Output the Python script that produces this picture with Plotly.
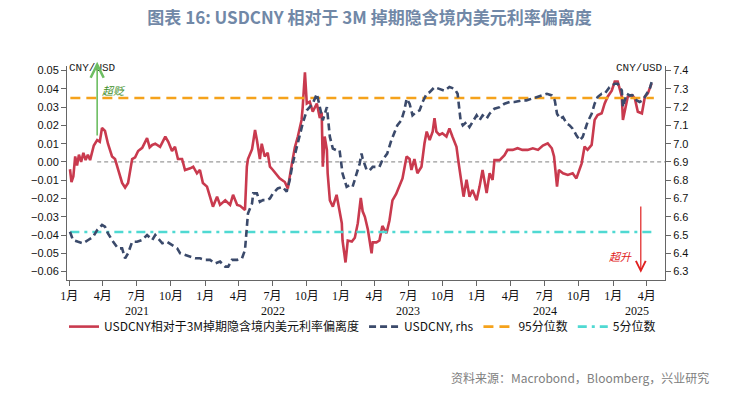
import plotly.graph_objects as go

# ---------------- data ----------------
dev_dates = [
    "2021-01-03","2021-01-07","2021-01-12","2021-01-17","2021-01-22","2021-01-27","2021-02-02","2021-02-08",
    "2021-02-14","2021-02-20","2021-02-26","2021-03-03","2021-03-08","2021-03-17","2021-03-24","2021-03-30",
    "2021-04-07","2021-04-15","2021-04-26","2021-05-04","2021-05-12","2021-05-23","2021-05-31","2021-06-08",
    "2021-06-19","2021-06-27","2021-07-05","2021-07-16","2021-07-29","2021-08-05","2021-08-12","2021-08-20",
    "2021-09-02","2021-09-16","2021-09-24","2021-10-04","2021-10-12","2021-10-20","2021-10-31","2021-11-08",
    "2021-11-22","2021-11-30","2021-12-10","2021-12-18","2021-12-26","2022-01-06","2022-01-14","2022-01-22",
    "2022-02-02","2022-02-10","2022-02-24","2022-03-09","2022-03-17","2022-03-28","2022-04-05","2022-04-18",
    "2022-04-23","2022-04-26","2022-05-07","2022-05-15","2022-05-20","2022-05-28","2022-06-02","2022-06-10",
    "2022-06-18","2022-06-24","2022-07-02","2022-07-12","2022-07-20","2022-08-03","2022-08-11","2022-08-22",
    "2022-08-30","2022-09-07","2022-09-17","2022-09-20","2022-09-26","2022-10-01","2022-10-09","2022-10-17",
    "2022-10-28","2022-11-05","2022-11-10","2022-11-13","2022-11-18","2022-11-24","2022-11-26","2022-12-02",
    "2022-12-10","2022-12-20","2022-12-28","2023-01-03","2023-01-05","2023-01-13","2023-01-19","2023-01-30",
    "2023-02-07","2023-02-15","2023-02-23","2023-02-28","2023-03-06","2023-03-14","2023-03-24","2023-03-27",
    "2023-04-06","2023-04-14","2023-04-22","2023-05-03","2023-05-11","2023-05-19","2023-05-29","2023-06-06",
    "2023-06-15","2023-06-26","2023-07-04","2023-07-09","2023-07-17","2023-07-25","2023-08-05","2023-08-13",
    "2023-08-19","2023-08-27","2023-09-04","2023-09-09","2023-09-14","2023-09-22","2023-09-30","2023-10-11",
    "2023-10-19","2023-10-27","2023-11-07","2023-11-13","2023-11-21","2023-11-26","2023-12-04","2023-12-12",
    "2023-12-20","2023-12-31","2024-01-08","2024-01-16","2024-01-27","2024-02-04","2024-02-12","2024-02-17",
    "2024-03-02","2024-03-15","2024-03-23","2024-04-06","2024-04-19","2024-05-02","2024-05-16","2024-05-30",
    "2024-06-13","2024-06-26","2024-07-09","2024-07-20","2024-07-26","2024-08-03","2024-08-08","2024-08-19",
    "2024-09-01","2024-09-14","2024-09-24","2024-10-03","2024-10-08","2024-10-16","2024-10-24","2024-11-04",
    "2024-11-12","2024-11-20","2024-12-01","2024-12-09","2024-12-17","2024-12-28","2025-01-05","2025-01-13",
    "2025-01-24","2025-01-27","2025-02-04","2025-02-09","2025-02-20","2025-02-28","2025-03-08","2025-03-19",
    "2025-03-27","2025-04-04","2025-04-14",
]
dev_values = [
    -0.004,-0.011,-0.008,0.003,-0.002,0.004,0.000,0.005,
    0.001,0.004,0.001,0.005,0.009,0.012,0.011,0.0186,
    0.017,0.010,0.003,0.0016,-0.0044,-0.0115,-0.014,-0.0115,
    0.0016,0.0025,0.006,0.0077,0.013,0.008,0.0093,0.010,
    0.0083,0.0139,0.011,0.006,0.0083,0.0016,0.0016,-0.0044,
    -0.0035,-0.0026,-0.0062,-0.0044,-0.0115,-0.0135,-0.019,-0.0245,
    -0.019,-0.0235,-0.021,-0.0235,-0.018,-0.0235,-0.024,-0.0263,
    -0.0026,0.0016,0.007,0.0175,0.012,0.0016,0.010,0.003,
    0.005,-0.0026,-0.0044,-0.0071,-0.009,-0.011,-0.0145,-0.0009,
    0.008,0.0139,0.023,0.030,0.049,0.032,0.033,0.0275,
    0.032,0.024,0.027,-0.0026,0.0139,0.0066,-0.0062,-0.021,
    -0.0245,-0.018,-0.0263,-0.0335,-0.043,-0.055,-0.043,-0.0436,
    -0.0415,-0.0335,-0.0197,-0.027,-0.030,-0.037,-0.050,-0.044,
    -0.044,-0.043,-0.035,-0.039,-0.032,-0.021,-0.0175,-0.0135,
    -0.009,0.003,0.0016,-0.0044,0.0016,-0.0062,-0.0026,0.0101,
    0.0166,0.012,0.0166,0.024,0.0166,0.0148,0.0157,0.0139,
    0.0184,0.0139,0.0083,-0.0009,-0.0115,-0.019,-0.0098,-0.019,
    -0.0153,-0.021,-0.0135,-0.0044,-0.017,-0.0062,-0.0098,0.001,
    0.001,0.0037,0.0066,0.0066,0.0075,0.0066,0.0066,0.0075,
    0.0066,0.009,0.0102,0.0075,0.003,-0.0135,-0.0044,-0.0062,
    -0.0071,-0.0062,-0.009,-0.0044,-0.0009,0.0084,0.0066,0.0093,
    0.023,0.0257,0.0266,0.032,0.0357,0.039,0.044,0.044,
    0.0357,0.023,0.032,0.0357,0.0366,0.0348,0.0275,0.0266,
    0.0357,0.0375,0.043,
]

fx_dates = [
    "2021-01-03","2021-01-11","2021-01-25","2021-02-07","2021-02-21","2021-03-06","2021-03-17","2021-03-30",
    "2021-04-07","2021-04-15","2021-04-29","2021-05-12","2021-05-23","2021-05-31","2021-06-08","2021-06-19",
    "2021-07-02","2021-07-16","2021-07-29","2021-08-12","2021-08-20","2021-08-28","2021-09-08","2021-09-21",
    "2021-10-04","2021-10-18","2021-10-26","2021-11-08","2021-11-22","2021-12-05","2021-12-18","2022-01-01",
    "2022-01-14","2022-01-28","2022-02-10","2022-02-24","2022-03-04","2022-03-14","2022-03-28","2022-04-10",
    "2022-04-18","2022-04-23","2022-04-26","2022-05-07","2022-05-10","2022-05-20","2022-05-28","2022-06-05",
    "2022-06-16","2022-06-24","2022-07-02","2022-07-15","2022-07-28","2022-08-08","2022-08-16","2022-08-24",
    "2022-09-04","2022-09-12","2022-09-20","2022-10-01","2022-10-09","2022-10-17","2022-10-28","2022-10-30",
    "2022-11-07","2022-11-13","2022-11-24","2022-12-02","2022-12-10","2022-12-20","2022-12-28","2023-01-05",
    "2023-01-16","2023-01-24","2023-02-01","2023-02-12","2023-02-20","2023-02-25","2023-02-28","2023-03-11",
    "2023-03-19","2023-03-27","2023-04-06","2023-04-14","2023-04-22","2023-05-05","2023-05-16","2023-05-24",
    "2023-06-01","2023-06-12","2023-06-20","2023-06-26","2023-07-04","2023-07-12","2023-07-22","2023-07-31",
    "2023-08-08","2023-08-19","2023-08-27","2023-09-09","2023-09-22","2023-10-06","2023-10-19","2023-11-02",
    "2023-11-10","2023-11-18","2023-11-24","2023-12-04","2023-12-12","2023-12-20","2023-12-31","2024-01-08",
    "2024-01-16","2024-01-27","2024-02-04","2024-02-17","2024-03-02","2024-03-15","2024-03-29","2024-04-11",
    "2024-04-30","2024-05-13","2024-05-27","2024-06-10","2024-06-23","2024-07-07","2024-07-20","2024-07-28",
    "2024-08-03","2024-08-11","2024-08-19","2024-08-29","2024-09-06","2024-09-14","2024-09-24","2024-10-03",
    "2024-10-11","2024-10-19","2024-10-24","2024-11-04","2024-11-12","2024-11-20","2024-12-01","2024-12-09",
    "2024-12-22","2025-01-05","2025-01-13","2025-01-24","2025-01-27","2025-02-06","2025-02-14","2025-02-22",
    "2025-03-05","2025-03-13","2025-03-21","2025-04-01","2025-04-09","2025-04-14",
]
fx_values = [
    6.518,6.473,6.463,6.455,6.473,6.490,6.527,6.555,
    6.546,6.509,6.463,6.427,6.427,6.373,6.400,6.463,
    6.463,6.473,6.500,6.473,6.500,6.482,6.455,6.463,
    6.445,6.427,6.400,6.390,6.382,6.373,6.373,6.364,
    6.364,6.345,6.355,6.327,6.327,6.364,6.364,6.373,
    6.418,6.545,6.618,6.673,6.728,6.728,6.682,6.691,
    6.691,6.700,6.728,6.755,6.764,6.737,6.800,6.891,
    6.982,7.055,7.110,7.182,7.200,7.219,7.273,7.255,
    7.164,7.128,7.200,7.037,6.973,6.964,6.964,6.837,
    6.764,6.773,6.764,6.837,6.891,6.946,6.918,6.855,
    6.855,6.873,6.873,6.873,6.910,6.946,7.018,7.064,
    7.100,7.128,7.182,7.246,7.219,7.155,7.173,7.182,
    7.228,7.273,7.282,7.309,7.300,7.290,7.310,7.300,
    7.273,7.128,7.100,7.118,7.091,7.118,7.155,7.128,
    7.155,7.137,7.164,7.191,7.200,7.219,7.228,7.228,
    7.237,7.237,7.246,7.255,7.264,7.273,7.264,7.237,
    7.164,7.137,7.146,7.110,7.100,7.082,7.046,7.018,
    7.037,7.091,7.118,7.164,7.219,7.255,7.273,7.273,
    7.309,7.328,7.328,7.291,7.200,7.273,7.264,7.264,
    7.237,7.228,7.237,7.273,7.300,7.337,
]

pct95 = 0.035
pct5 = -0.0383
line_span = ["2021-01-04", "2025-04-20"]
zero_span = ["2021-03-17", "2025-05-20"]

tick_dates = ["2021-01-01","2021-04-01","2021-07-01","2021-10-01",
              "2022-01-01","2022-04-01","2022-07-01","2022-10-01",
              "2023-01-01","2023-04-01","2023-07-01","2023-10-01",
              "2024-01-01","2024-04-01","2024-07-01","2024-10-01",
              "2025-01-01","2025-04-01"]
tick_text = ["1月","4月","7月","10月"] * 4 + ["1月","4月"]
year_labels = ["2021","2022","2023","2024","2025"]
year_pos = ["2021-07-01","2022-07-01","2023-07-01","2024-07-01","2025-03-05"]

left_ticks = [0.05,0.04,0.03,0.02,0.01,0.0,-0.01,-0.02,-0.03,-0.04,-0.05,-0.06]
right_ticks = [7.4,7.3,7.2,7.1,7.0,6.9,6.8,6.7,6.6,6.5,6.4,6.3]

# ---------------- figure ----------------
RED = "#C93A4E"
NAVY = "#3B4A6B"
ORANGE = "#F5A21B"
CYAN = "#4FD9D2"
LEG_FONT = "Noto Sans CJK SC"
MONO = "Liberation Mono, DejaVu Sans Mono"

fig = go.Figure()

fig.add_trace(go.Scatter(x=zero_span, y=[0, 0], mode="lines", showlegend=False,
                         line=dict(color="#9a9a9a", width=1.2, dash="4px,3px"), hoverinfo="skip"))
fig.add_trace(go.Scatter(x=dev_dates, y=dev_values, mode="lines",
                         name="USDCNY相对于3M掉期隐含境内美元利率偏离度",
                         line=dict(color=RED, width=2.6)))
fig.add_trace(go.Scatter(x=fx_dates, y=fx_values, mode="lines", name="USDCNY, rhs", yaxis="y2",
                         line=dict(color=NAVY, width=2.6, dash="7px,4px")))
fig.add_trace(go.Scatter(x=line_span, y=[pct95, pct95], mode="lines", name="95分位数",
                         line=dict(color=ORANGE, width=2.6, dash="10px,6px")))
fig.add_trace(go.Scatter(x=line_span, y=[pct5, pct5], mode="lines", name="5分位数",
                         line=dict(color=CYAN, width=2.6, dash="9px,5px,3px,5px")))

annotations = []
for yl, yp in zip(year_labels, year_pos):
    annotations.append(dict(x=yp, xref="x", y=-0.145, yref="paper", text=yl, showarrow=False,
                            yanchor="middle",
                            font=dict(family="Liberation Serif", size=12, color="#111")))

annotations += [
    dict(x=0, xref="paper", y=0.99, yref="paper", text="CNY/USD", showarrow=False, xanchor="left",
         yanchor="middle", font=dict(family=MONO, size=11, color="#222")),
    dict(x=1, xref="paper", y=0.99, yref="paper", text="CNY/USD", showarrow=False, xanchor="right",
         yanchor="middle", font=dict(family=MONO, size=11, color="#222")),
    dict(x="2021-03-17", xref="x", y=0.0548, yref="y", ax="2021-03-17", axref="x", ay=0.0137, ayref="y",
         showarrow=True, arrowhead=5, arrowsize=1.6, arrowwidth=1.6, arrowcolor="#6DBE62", text=""),
    dict(x="2021-05-02", xref="x", y=0.0395, yref="y", text="<i>超贬</i>", showarrow=False,
         font=dict(family=LEG_FONT, size=11, color="#3F8F2A")),
    dict(x="2025-03-16", xref="x", y=-0.0607, yref="y", ax="2025-03-16", axref="x", ay=-0.0235, ayref="y",
         showarrow=True, arrowhead=5, arrowsize=1.6, arrowwidth=1.2, arrowcolor="#E02020", text=""),
    dict(x="2025-01-20", xref="x", y=-0.0515, yref="y", text="<i>超升</i>", showarrow=False,
         font=dict(family=LEG_FONT, size=11, color="#E02020")),
    dict(x=1.077, xref="paper", y=-0.455, yref="paper", xanchor="right", yanchor="middle",
         text="资料来源：Macrobond，Bloomberg，兴业研究", showarrow=False,
         font=dict(family="Noto Sans CJK SC", size=12, color="#808080")),
]

fig.update_layout(
    width=739, height=395,
    margin=dict(l=67, r=74, t=66, b=115, autoexpand=False),
    paper_bgcolor="white", plot_bgcolor="white",
    title=dict(text="<b>图表 16: USDCNY 相对于 3M 掉期隐含境内美元利率偏离度</b>",
               x=0.5, xanchor="center", y=0.955, yanchor="middle",
               font=dict(family="Noto Sans CJK SC", size=17, color="#7188A7")),
    xaxis=dict(type="date", range=["2020-12-26", "2025-05-20"], tickvals=tick_dates, ticktext=tick_text,
               showline=True, linecolor="#666", linewidth=1, ticks="outside", ticklen=5, tickcolor="#666",
               showgrid=False, zeroline=False, tickangle=0, automargin=False,
               tickfont=dict(family="Liberation Serif, Noto Sans CJK SC", size=12, color="#111")),
    yaxis=dict(range=[-0.0646, 0.0525], tickvals=left_ticks, tickformat=".2f", automargin=False,
               showline=True, linecolor="#666", linewidth=1, ticks="outside", ticklen=5, tickcolor="#666",
               showgrid=False, zeroline=False,
               tickfont=dict(family="Liberation Sans", size=11, color="#111")),
    yaxis2=dict(range=[6.254, 7.425], tickvals=right_ticks, tickformat=".1f", overlaying="y", side="right",
                showline=True, linecolor="#666", linewidth=1, ticks="outside", ticklen=5, tickcolor="#666",
                showgrid=False, zeroline=False, automargin=False,
                tickfont=dict(family="Liberation Sans", size=11, color="#111")),
    legend=dict(orientation="h", x=-0.005, xanchor="left", y=-0.15, yanchor="top",
                font=dict(family=LEG_FONT, size=12, color="#111"), itemwidth=30,
                tracegroupgap=0, bgcolor="rgba(0,0,0,0)"),
    showlegend=True,
    annotations=annotations,
)

fig.write_html("out.html", config={"displayModeBar": False},
               post_script="document.body.style.margin='0';")
